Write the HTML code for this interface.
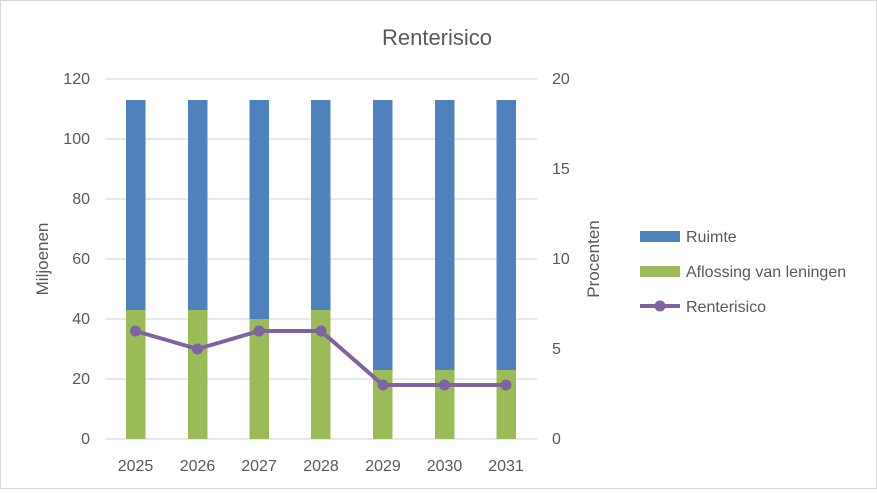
<!DOCTYPE html>
<html><head><style>body{margin:0;background:#fff}</style></head><body>
<svg width="877" height="489" xmlns="http://www.w3.org/2000/svg" font-family="Liberation Sans, sans-serif">
<rect x="0.5" y="0.5" width="876" height="488" fill="#fff" stroke="#d9d9d9"/>
<text x="437" y="45" font-size="22" fill="#595959" text-anchor="middle">Renterisico</text>
<g stroke="#d9d9d9" stroke-width="1.3">
<line x1="105" x2="537" y1="79" y2="79"/><line x1="105" x2="537" y1="139" y2="139"/>
<line x1="105" x2="537" y1="199" y2="199"/><line x1="105" x2="537" y1="259" y2="259"/>
<line x1="105" x2="537" y1="319" y2="319"/><line x1="105" x2="537" y1="379" y2="379"/>
<line x1="105" x2="537" y1="439" y2="439"/></g>
<g fill="#4f81bd">
<rect x="126" y="100" width="19.5" height="339"/><rect x="188" y="100" width="19.5" height="339"/>
<rect x="249.5" y="100" width="19.5" height="339"/><rect x="311" y="100" width="19.5" height="339"/>
<rect x="373" y="100" width="19.5" height="339"/><rect x="435" y="100" width="19.5" height="339"/>
<rect x="496.5" y="100" width="19.5" height="339"/></g>
<g fill="#9bbb59">
<rect x="126" y="310" width="19.5" height="129"/><rect x="188" y="310" width="19.5" height="129"/>
<rect x="249.5" y="319" width="19.5" height="120"/><rect x="311" y="310" width="19.5" height="129"/>
<rect x="373" y="370" width="19.5" height="69"/><rect x="435" y="370" width="19.5" height="69"/>
<rect x="496.5" y="370" width="19.5" height="69"/></g>
<polyline points="135.5,331 197.5,349 259,331 321,331 383,385 444.5,385 506,385" fill="none" stroke="#8064a2" stroke-width="4" stroke-linejoin="round"/>
<g fill="#8064a2"><circle cx="135.5" cy="331" r="5.5"/><circle cx="197.5" cy="349" r="5.5"/><circle cx="259" cy="331" r="5.5"/><circle cx="321" cy="331" r="5.5"/><circle cx="383" cy="385" r="5.5"/><circle cx="444.5" cy="385" r="5.5"/><circle cx="506" cy="385" r="5.5"/></g>
<g font-size="16" fill="#595959" text-anchor="end">
<text x="90" y="84">120</text><text x="90" y="144">100</text><text x="90" y="204">80</text><text x="90" y="264">60</text><text x="90" y="324">40</text><text x="90" y="384">20</text><text x="90" y="444">0</text></g>
<g font-size="16" fill="#595959" text-anchor="start">
<text x="552" y="84">20</text><text x="552" y="174">15</text><text x="552" y="264">10</text><text x="552" y="354">5</text><text x="552" y="444">0</text></g>
<g font-size="16" fill="#595959" text-anchor="middle">
<text x="135.5" y="471">2025</text><text x="197.5" y="471">2026</text><text x="259" y="471">2027</text><text x="321" y="471">2028</text><text x="383" y="471">2029</text><text x="444.5" y="471">2030</text><text x="506" y="471">2031</text></g>
<text transform="translate(48,259) rotate(-90)" font-size="17" fill="#595959" text-anchor="middle">Miljoenen</text>
<text transform="translate(599,259) rotate(-90)" font-size="17" fill="#595959" text-anchor="middle">Procenten</text>
<rect x="640" y="231" width="40" height="11" fill="#4f81bd"/>
<text x="686" y="242" font-size="16" fill="#595959">Ruimte</text>
<rect x="640" y="266" width="40" height="11" fill="#9bbb59"/>
<text x="686" y="277" font-size="16" fill="#595959">Aflossing van leningen</text>
<line x1="640" x2="680" y1="306" y2="306" stroke="#8064a2" stroke-width="4"/>
<circle cx="660" cy="306" r="5.5" fill="#8064a2"/>
<text x="686" y="312" font-size="16" fill="#595959">Renterisico</text>
</svg>
</body></html>
